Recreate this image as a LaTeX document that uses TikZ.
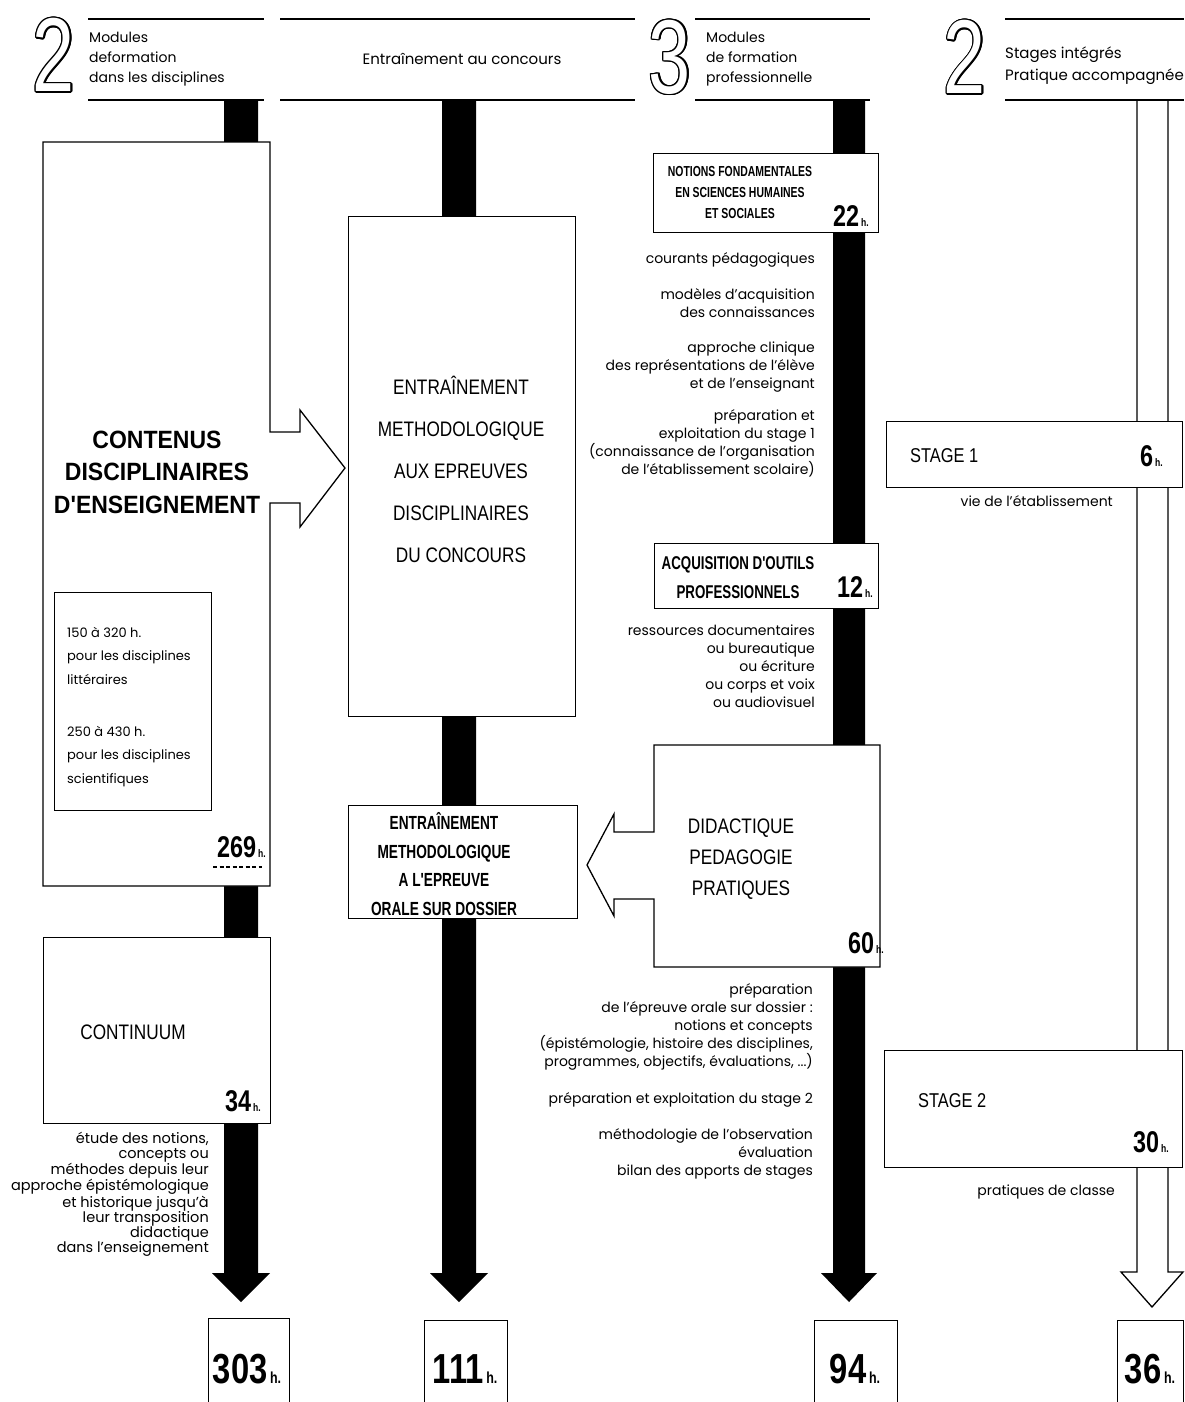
\documentclass[tikz,border=0pt]{standalone}
\usepackage{fontspec}
\usepackage[copies]{contour}
\setmainfont{Poppins}
\newfontfamily\fA[FakeStretch=0.82]{Liberation Sans}
\newfontfamily\fB[FakeStretch=0.72]{Liberation Sans Bold}
\newfontfamily\fC[FakeStretch=0.92]{Liberation Sans Bold}
\newfontfamily\fN[FakeStretch=0.78]{Liberation Sans Bold}
\newfontfamily\fD[FakeStretch=0.72]{Liberation Sans}
\contourlength{1.4pt}
\newcommand\fsz[2]{\fontsize{#1}{#2}\selectfont}
\newcommand\hlab[3]{{\fN\fsz{#1}{#1}#2}{\fN\fsz{#3}{#3}\,h.}}
\newcommand\bigdig[1]{\textcolor{white}{\contour{black}{\fD\fsz{105}{105}#1}}}
\begin{document}
\begin{tikzpicture}[x=1pt,y=-1pt,
  frame/.style={draw=black,fill=white,line width=1.3pt,inner sep=0pt,anchor=north west},
  rule/.style={line width=1.3pt},
  lbl/.style={inner sep=0pt},
  note/.style={inner sep=0pt,align=right,anchor=base east,font=\fsz{14}{17.8}},
  hour/.style={inner sep=0pt,anchor=base west},
  tot/.style={inner sep=0pt,anchor=base},
  bar/.style={fill=black}
]
\useasboundingbox (0,0) rectangle (1184,1402);
\fill[white] (0,0) rectangle (1184,1402);

% ---------- header ----------
\node[lbl] (d1) at (54,56) {\bigdig{2}};
\draw[rule] (88,19) -- (264,19);
\draw[rule] (88,100) -- (264,100);
\node[lbl,anchor=base west,align=left,font=\fsz{14}{20}] (h1) at (89,83) {Modules\\deformation\\dans les disciplines};
\draw[rule] (280,19) -- (635,19);
\draw[rule] (280,100) -- (635,100);
\node[lbl,font=\fsz{15}{18}] (h2) at (462,59) {Entraînement au concours};
\node[lbl] (d3) at (670,58) {\bigdig{3}};
\draw[rule] (695,19) -- (870,19);
\draw[rule] (695,100) -- (870,100);
\node[lbl,anchor=base west,align=left,font=\fsz{14}{20}] (h3) at (706,83) {Modules\\de formation\\professionnelle};
\node[lbl] (d4) at (965,58) {\bigdig{2}};
\draw[rule] (1005,19) -- (1184,19);
\draw[rule] (1005,100) -- (1184,100);
\node[lbl,anchor=base west,align=left,font=\fsz{15}{22}] (h4) at (1005,81) {Stages intégrés\\Pratique accompagnée};

% ---------- bars ----------
\coordinate (e1) at (241,1302);
\coordinate (e2) at (459,1302);
\coordinate (e3) at (849,1302);
\coordinate (e4) at (1152,1307);
\fill[bar] (224,100) -- (258,100) -- (258,1273) -- (270,1273) -- (e1) -- (212,1273) -- (224,1273) -- cycle;
\fill[bar] (442,100) -- (476,100) -- (476,1273) -- (488,1273) -- (e2) -- (430,1273) -- (442,1273) -- cycle;
\fill[bar] (833,100) -- (865,100) -- (865,1273) -- (877,1273) -- (e3) -- (821,1273) -- (833,1273) -- cycle;
\draw[rule,line join=miter] (1137,100) -- (1137,1272) -- (1121,1272) -- (e4) -- (1183,1272) -- (1168,1272) -- (1168,100);

% ---------- column 1 ----------
\draw[rule,fill=white,line join=miter] (43,142) -- (270,142) -- (270,432) -- (300,432) -- (300,410) -- (345,468) -- (300,527) -- (300,503) -- (270,503) -- (270,886) -- (43,886) -- cycle;
\node[lbl,font=\fC\fsz{25}{32.5},align=center] (c1t) at (157,472) {CONTENUS\\DISCIPLINAIRES\\D'ENSEIGNEMENT};
\node[frame,minimum width=157pt,minimum height=218pt] (c1in) at (54,592) {};
\node[lbl,anchor=base west,align=left,font=\fsz{13}{23.5}] (c1a) at (67,684) {150 à 320 h.\\pour les disciplines\\littéraires};
\node[lbl,anchor=base west,align=left,font=\fsz{13}{23.5}] (c1b) at (67,783) {250 à 430 h.\\pour les disciplines\\scientifiques};
\node[hour] (c1h) at (217,857) {\hlab{30}{269}{11}};
\draw[line width=2.5pt,dash pattern=on 4pt off 2.5pt] (213,867) -- (262,867);

\node[frame,minimum width=227pt,minimum height=186pt] (c1c) at (43,937) {};
\node[lbl,font=\fA\fsz{21}{21}] (c1ct) at (133,1032) {CONTINUUM};
\node[hour] (c1ch) at (225,1111) {\hlab{30}{34}{11}};
\node[note,font=\fsz{14.5}{15}] (c1n) at (209,1252) {étude des notions,\\concepts ou\\méthodes depuis leur\\approche épistémologique\\et historique jusqu'à\\leur transposition\\didactique\\dans l'enseignement};

% ---------- column 2 ----------
\node[frame,minimum width=227pt,minimum height=500pt] (c2big) at (348,216) {};
\node[lbl,font=\fA\fsz{21}{42},align=center] (c2bt) at (461,469) {ENTRAÎNEMENT\\METHODOLOGIQUE\\AUX EPREUVES\\DISCIPLINAIRES\\DU CONCOURS};
\node[frame,minimum width=229pt,minimum height=113pt] (c2small) at (348,805) {};
\node[lbl,font=\fB\fsz{19}{28.5},align=center] (c2st) at (444,864) {ENTRAÎNEMENT\\METHODOLOGIQUE\\A L'EPREUVE\\ORALE SUR DOSSIER};

% ---------- column 3 ----------
\node[frame,minimum width=225pt,minimum height=79pt] (c3a) at (653,153) {};
\node[lbl,font=\fB\fsz{14.5}{21},align=center] (c3at) at (740,193) {NOTIONS FONDAMENTALES\\EN SCIENCES HUMAINES\\ET SOCIALES};
\node[hour] (c3ah) at (833,226) {\hlab{30}{22}{11}};
\node[note] (c3n1) at (815,263) {courants pédagogiques};
\node[note] (c3n2) at (815,317) {modèles d'acquisition\\des connaissances};
\node[note] (c3n3) at (815,388) {approche clinique\\des représentations de l'élève\\et de l'enseignant};
\node[note] (c3n4) at (815,474) {préparation et\\exploitation du stage 1\\(connaissance de l'organisation\\de l'établissement scolaire)};

\node[frame,minimum width=224pt,minimum height=65pt] (c3b) at (654,543) {};
\node[lbl,font=\fB\fsz{18.5}{29},align=center] (c3bt) at (738,578) {ACQUISITION D'OUTILS\\PROFESSIONNELS};
\node[hour] (c3bh) at (837,597) {\hlab{30}{12}{11}};
\node[note] (c3n5) at (815,707) {ressources documentaires\\ou bureautique\\ou écriture\\ou corps et voix\\ou audiovisuel};

\draw[rule,fill=white,line join=miter] (654,745) -- (880,745) -- (880,967) -- (654,967) -- (654,899) -- (614,899) -- (614,916) -- (587,865) -- (614,814) -- (614,832) -- (654,832) -- cycle;
\node[lbl,font=\fA\fsz{21}{31},align=center] (c3ct) at (741,859) {DIDACTIQUE\\PEDAGOGIE\\PRATIQUES};
\node[hour] (c3ch) at (848,953) {\hlab{30}{60}{11}};
\node[note] (c3n6) at (813,1066) {préparation\\de l'épreuve orale sur dossier :\\notions et concepts\\(épistémologie, histoire des disciplines,\\programmes, objectifs, évaluations, ...)};
\node[note] (c3n7) at (813,1103) {préparation et exploitation du stage 2};
\node[note] (c3n8) at (813,1175) {méthodologie de l'observation\\évaluation\\bilan des apports de stages};

% ---------- column 4 ----------
\node[frame,minimum width=296pt,minimum height=66pt] (c4a) at (886,421) {};
\node[lbl,anchor=base west,font=\fA\fsz{20}{20}] (c4at) at (910,462) {STAGE 1};
\node[hour] (c4ah) at (1140,466) {\hlab{30}{6}{11}};
\node[note] (c4n1) at (1113,506) {vie de l'établissement};
\node[frame,minimum width=298pt,minimum height=117pt] (c4b) at (884,1050) {};
\node[lbl,anchor=base west,font=\fA\fsz{20}{20}] (c4bt) at (918,1107) {STAGE 2};
\node[hour] (c4bh) at (1133,1152) {\hlab{30}{30}{11}};
\node[note] (c4n2) at (1115,1195) {pratiques de classe};

% ---------- totals ----------
\node[frame,minimum width=81pt,minimum height=100pt] (t1) at (208,1318) {};
\node[tot] (t1t) at (247,1383) {\hlab{42}{303}{16}};
\node[frame,minimum width=83pt,minimum height=100pt] (t2) at (424,1320) {};
\node[tot] (t2t) at (465,1383) {\hlab{42}{111}{16}};
\node[frame,minimum width=83pt,minimum height=100pt] (t3) at (814,1320) {};
\node[tot] (t3t) at (855,1383) {\hlab{42}{94}{16}};
\node[frame,minimum width=66pt,minimum height=100pt] (t4) at (1117,1320) {};
\node[tot] (t4t) at (1150,1383) {\hlab{42}{36}{16}};
\end{tikzpicture}
\end{document}
